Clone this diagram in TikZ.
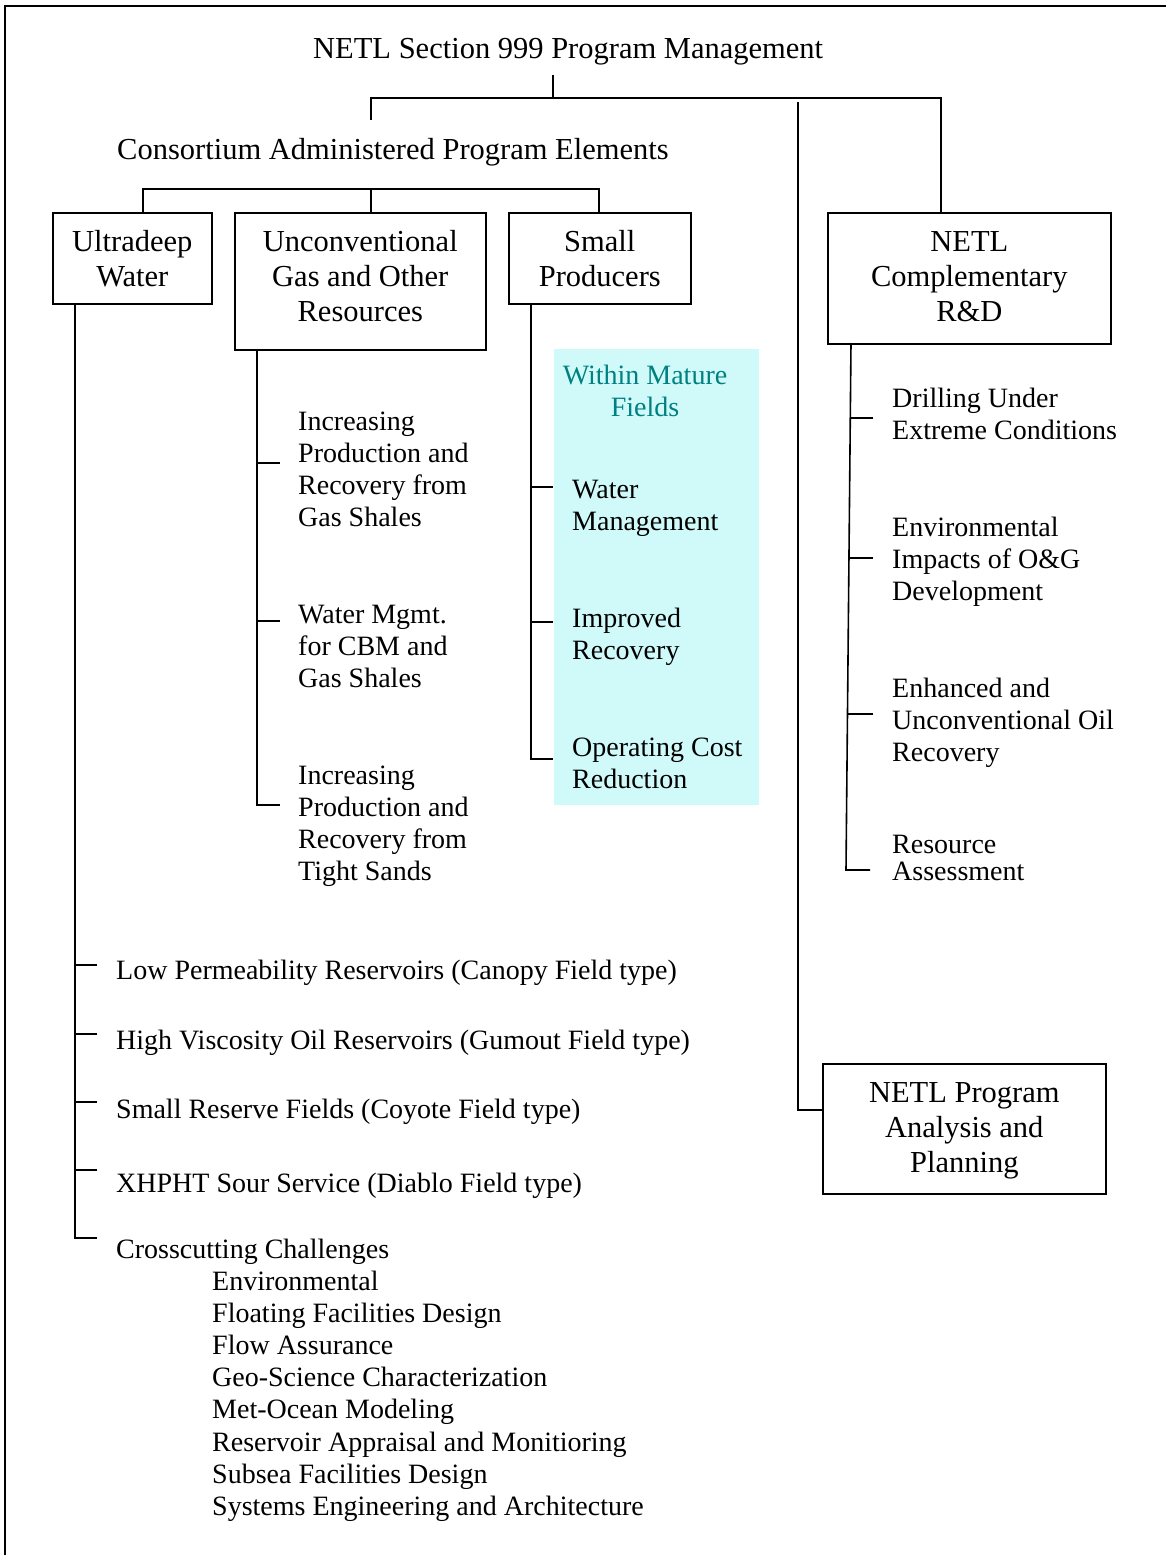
\documentclass[tikz,border=0pt]{standalone}
\usepackage{fontspec}
\setmainfont{Liberation Serif}
\newcommand\ItemF{\fontsize{28}{32.2}\selectfont}
\newcommand\BigF{\fontsize{30.5}{35}\selectfont}
\newcommand\Ltab[1]{\begin{tabular}[t]{@{}l@{}}#1\end{tabular}}
\newcommand\Ctab[1]{\begin{tabular}[t]{@{}c@{}}#1\end{tabular}}
\newcommand\BoxTxt[2]{\raisebox{-#1pt}[\height][\depth]{\begin{tabular}{@{}c@{}}#2\end{tabular}}}
\definecolor{paleCyan}{RGB}{208,250,250}
\definecolor{tealText}{RGB}{0,128,128}
\begin{document}
\begin{tikzpicture}[x=1pt,y=-1pt,
  conn/.style={line width=1.6pt},
  frame/.style={line width=2.2pt},
  boxnode/.style={draw, line width=1.6pt, rectangle, anchor=north west, inner sep=0pt, font=\BigF},
  itemtext/.style={anchor=base west, inner sep=0pt, font=\ItemF},
  headtext/.style={anchor=base west, inner sep=0pt, font=\BigF}]
\useasboundingbox (0,0) rectangle (1166,1555);
% frame (top and left edges only)
\coordinate (frTL) at (5,6);
\coordinate (frTR) at (1170,6);
\coordinate (frBL) at (5,1560);
\draw[frame] (frTR) -- (frTL) -- (frBL);

% pale cyan background
\node[fill=paleCyan, anchor=north west, minimum width=205pt, minimum height=456pt, inner sep=0pt] (cyanbg) at (554,349) {};

% headings
\node[headtext] (title) at (313,59) {NETL Section 999 Program Management};
\node[headtext] (cons) at (117,159) {Consortium Administered Program Elements};

% boxes
\node[boxnode, minimum width=159pt, minimum height=91pt] (ultra) at (52,212) {\BoxTxt{4}{Ultradeep\\Water}};
\node[boxnode, minimum width=251pt, minimum height=137pt] (unconv) at (234,212) {\BoxTxt{-1.5}{Unconventional\\Gas and Other\\Resources}};
\node[boxnode, minimum width=182pt, minimum height=91pt] (small) at (508,212) {\BoxTxt{4}{Small\\Producers}};
\node[boxnode, minimum width=283pt, minimum height=131pt] (comp) at (827,212) {\BoxTxt{1.5}{NETL\\Complementary\\R\&D}};
\node[boxnode, minimum width=283pt, minimum height=130pt] (ana) at (822,1063) {\BoxTxt{2}{NETL Program\\Analysis and\\Planning}};

% top tree
\coordinate (tJ) at (553,75);
\coordinate (busL) at (371,98);
\coordinate (busR) at (941,98);
\coordinate (consJ) at (371,120);
\coordinate (anaJ) at (798,102);
\coordinate (anaE) at (822,1110);
\draw[conn] (tJ) -- (tJ |- busL);
\draw[conn] (consJ) -- (busL) -- (busR) -- (busR |- comp.north);
\draw[conn] (anaJ) |- (anaE);

% second bus
\coordinate (b2L) at (143,189);
\coordinate (b2M) at (371,189);
\coordinate (b2R) at (599,189);
\draw[conn] (b2L |- ultra.north) -- (b2L) -- (b2R) -- (b2R |- small.north);
\draw[conn] (b2M) -- (b2M |- unconv.north);

% Ultradeep spine
\coordinate (uTop) at (75,303);
\coordinate (uT5) at (97,1238);
\draw[conn] (uTop) |- (uT5);
\foreach \n/\y in {1/965,2/1034,3/1102,4/1170}{
  \coordinate (uT\n) at (97,\y);
  \draw[conn] (uTop |- uT\n) -- (uT\n);
}

% Unconventional spine
\coordinate (gTop) at (257,349);
\coordinate (gT3) at (280,805);
\draw[conn] (gTop) |- (gT3);
\foreach \n/\y in {1/463,2/621}{
  \coordinate (gT\n) at (280,\y);
  \draw[conn] (gTop |- gT\n) -- (gT\n);
}

% Small producers spine
\coordinate (sTop) at (531,303);
\coordinate (sT3) at (553,759);
\draw[conn] (sTop) |- (sT3);
\foreach \n/\y in {1/487,2/622}{
  \coordinate (sT\n) at (553,\y);
  \draw[conn] (sTop |- sT\n) -- (sT\n);
}

% Complementary spine (slightly slanted)
\coordinate (cTop) at (851,343);
\coordinate (cBot) at (846,870);
\coordinate (cT4) at (870,870);
\draw[conn] (cTop) -- (cBot) -- (cT4);
\foreach \n/\x/\y in {1/850.3/418,2/849/558,3/847.5/714}{
  \coordinate (cS\n) at (\x,\y);
  \coordinate (cT\n) at (873,\y);
  \draw[conn] (cS\n) -- (cT\n);
}

% Unconventional items
\node[itemtext] (g1) at (298,430) {\Ltab{Increasing\\Production and\\Recovery from\\Gas Shales}};
\node[itemtext] (g2) at (298,623) {\Ltab{Water Mgmt.\\for CBM and\\Gas Shales}};
\node[itemtext] (g3) at (298,784) {\Ltab{Increasing\\Production and\\Recovery from\\Tight Sands}};

% Small producers items
\node[anchor=base, inner sep=0pt, font=\ItemF, text=tealText] (mature) at (645,384) {\Ctab{Within Mature\\Fields}};
\node[itemtext] (s1) at (572,498) {\Ltab{Water\\Management}};
\node[itemtext] (s2) at (572,627) {\Ltab{Improved\\Recovery}};
\node[itemtext] (s3) at (572,756) {\Ltab{Operating Cost\\Reduction}};

% Complementary items
\node[itemtext] (c1) at (892,407) {\Ltab{Drilling Under\\Extreme Conditions}};
\node[itemtext] (c2) at (892,536) {\Ltab{Environmental\\Impacts of O\&G\\Development}};
\node[itemtext] (c3) at (892,697) {\Ltab{Enhanced and\\Unconventional Oil\\Recovery}};
\node[itemtext] (c4) at (892,853) {\Ltab{Resource\\[-5pt]Assessment}};

% Ultradeep items
\node[itemtext] (u1) at (116,979) {Low Permeability Reservoirs (Canopy Field type)};
\node[itemtext] (u2) at (116,1049) {High Viscosity Oil Reservoirs (Gumout Field type)};
\node[itemtext] (u3) at (116,1118) {Small Reserve Fields (Coyote Field type)};
\node[itemtext] (u4) at (116,1192) {XHPHT Sour Service (Diablo Field type)};
\node[itemtext] (u5) at (116,1258) {Crosscutting Challenges};
\node[itemtext] (u5list) at (212,1290) {\Ltab{Environmental\\Floating Facilities Design\\Flow Assurance\\Geo-Science Characterization\\Met-Ocean Modeling\\Reservoir Appraisal and Monitioring\\Subsea Facilities Design\\Systems Engineering and Architecture}};
\end{tikzpicture}
\end{document}
